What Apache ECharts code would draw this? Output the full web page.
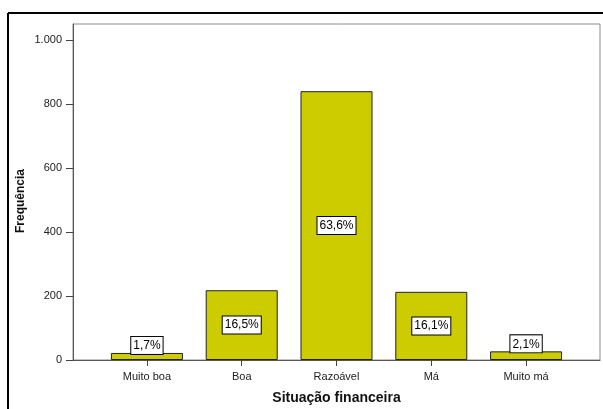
<!DOCTYPE html>
<html>
<head>
<meta charset="utf-8">
<script src="https://cdn.jsdelivr.net/npm/echarts@6/dist/echarts.min.js"></script>
<style>
html,body{margin:0;padding:0;background:#fff;}
#c{width:603px;height:409px;}
</style>
</head>
<body>
<div id="c"></div>
<script>
var categories = ["Muito boa", "Boa", "Razoável", "Má", "Muito má"];
var counts = [22, 218, 840, 213, 27];
var percentLabels = ["1,7%", "16,5%", "63,6%", "16,1%", "2,1%"];
var yTicks = [0, 200, 400, 600, 800, 1000];
var yTickLabels = ["0", "200", "400", "600", "800", "1.000"];

var chart = echarts.init(document.getElementById('c'), null, {renderer: 'canvas'});
var font = 'Liberation Sans, Arial, sans-serif';

var data = counts.map(function (v, i) {
  var small = v < 100;
  return {
    value: [i, v],
    label: small ? {position: 'top', distance: -1} : {position: 'inside'}
  };
});

chart.setOption({
  animation: false,
  backgroundColor: '#fff',
  grid: {left: 73, right: 3, top: 24, bottom: 49, show: true, borderColor: '#8a8a8a', borderWidth: 1,
    containLabel: false, outerBoundsMode: 'none'},
  xAxis: {
    type: 'value', min: -0.78, max: 4.78,
    name: 'Situação financeira', nameLocation: 'middle', nameGap: 31, nameMoveOverlap: false,
    nameTextStyle: {fontFamily: font, fontWeight: 'bold', fontSize: 14, color: '#111'},
    axisLine: {show: true, onZero: false, lineStyle: {color: '#555', width: 1}},
    axisTick: {show: true, length: 6, lineStyle: {color: '#444'}, customValues: [0, 1, 2, 3, 4]},
    axisLabel: {customValues: [0, 1, 2, 3, 4], margin: 11, fontFamily: font, fontSize: 11, color: '#222',
      formatter: function (v) { return categories[Math.round(v)]; }},
    splitLine: {show: false}
  },
  yAxis: {
    type: 'value', min: 0, max: 1050,
    name: 'Frequência', nameLocation: 'middle', nameGap: 46, nameRotate: 90, nameMoveOverlap: false,
    nameTextStyle: {fontFamily: font, fontWeight: 'bold', fontSize: 12, color: '#111', padding: [0, 18, 0, 0]},
    axisLine: {show: true, onZero: false, lineStyle: {color: '#555', width: 1}},
    axisTick: {show: true, length: 7, lineStyle: {color: '#444'}, customValues: yTicks},
    axisLabel: {customValues: yTicks, margin: 11, fontFamily: font, fontSize: 11, color: '#222',
      formatter: function (v) { return yTickLabels[yTicks.indexOf(v)]; }},
    splitLine: {show: false}
  },
  graphic: [
    {type: 'line', shape: {x1: 8, y1: 13, x2: 603, y2: 13}, style: {stroke: '#000', lineWidth: 2}},
    {type: 'line', shape: {x1: 8, y1: 13, x2: 8, y2: 409}, style: {stroke: '#000', lineWidth: 2}}
  ],
  series: [{
    type: 'bar',
    barWidth: 72,
    data: data,
    itemStyle: {color: '#cccc00', borderColor: '#222', borderWidth: 1},
    label: {
      show: true,
      formatter: function (p) { return percentLabels[p.dataIndex]; },
      fontFamily: font, fontSize: 12, color: '#000', lineHeight: 14,
      backgroundColor: '#fff', borderColor: '#000', borderWidth: 1,
      padding: [2, 2, 1, 2]
    }
  }]
});
</script>
</body>
</html>
